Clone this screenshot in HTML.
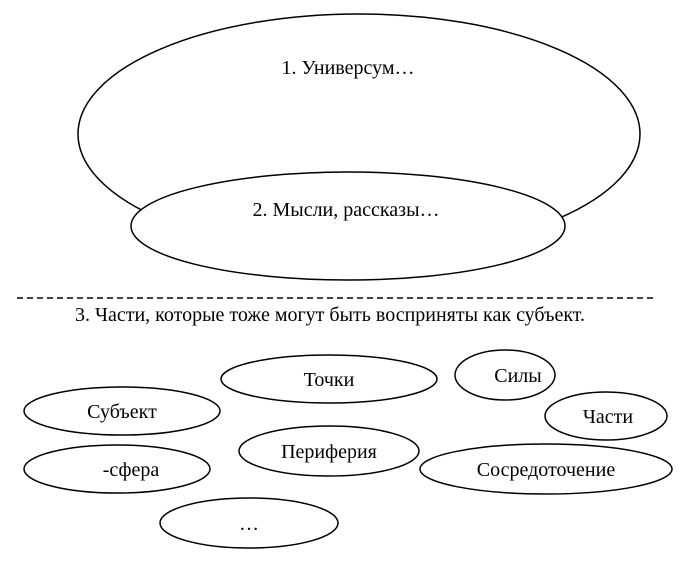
<!DOCTYPE html>
<html><head><meta charset="utf-8"><style>
html,body{margin:0;padding:0;background:#fff}
svg{display:block}
text{font-family:"Liberation Serif",serif;font-size:20px;fill:#000}
</style></head><body>
<svg width="685" height="561" viewBox="0 0 685 561" xmlns="http://www.w3.org/2000/svg">
<g fill="#fff" stroke="#000" stroke-width="1.5">
<ellipse cx="359" cy="134" rx="281" ry="120"/>
<ellipse cx="348" cy="226" rx="217" ry="54"/>
<ellipse cx="329" cy="379" rx="108" ry="24"/>
<ellipse cx="505" cy="375" rx="50" ry="25"/>
<ellipse cx="122" cy="411" rx="98" ry="24"/>
<ellipse cx="606" cy="416" rx="61" ry="24"/>
<ellipse cx="329" cy="451" rx="90" ry="25"/>
<ellipse cx="117" cy="469" rx="93" ry="24"/>
<ellipse cx="546" cy="469" rx="126" ry="25"/>
<ellipse cx="249" cy="523" rx="89" ry="25"/>
</g>
<line x1="17" y1="298" x2="655" y2="298" stroke="#000" stroke-width="1.5" stroke-dasharray="6,4"/>
<g text-anchor="middle">
<text x="348" y="74">1. Универсум…</text>
<text x="346" y="216">2. Мысли, рассказы…</text>
<text x="330" y="321">3. Части, которые тоже могут быть восприняты как субъект.</text>
<text x="329" y="386">Точки</text>
<text x="518" y="382">Силы</text>
<text x="122" y="418">Субъект</text>
<text x="608" y="423">Части</text>
<text x="329" y="458">Периферия</text>
<text x="131" y="476">-сфера</text>
<text x="546" y="476">Сосредоточение</text>
<text x="249" y="530">…</text>
</g>
</svg>
</body></html>
